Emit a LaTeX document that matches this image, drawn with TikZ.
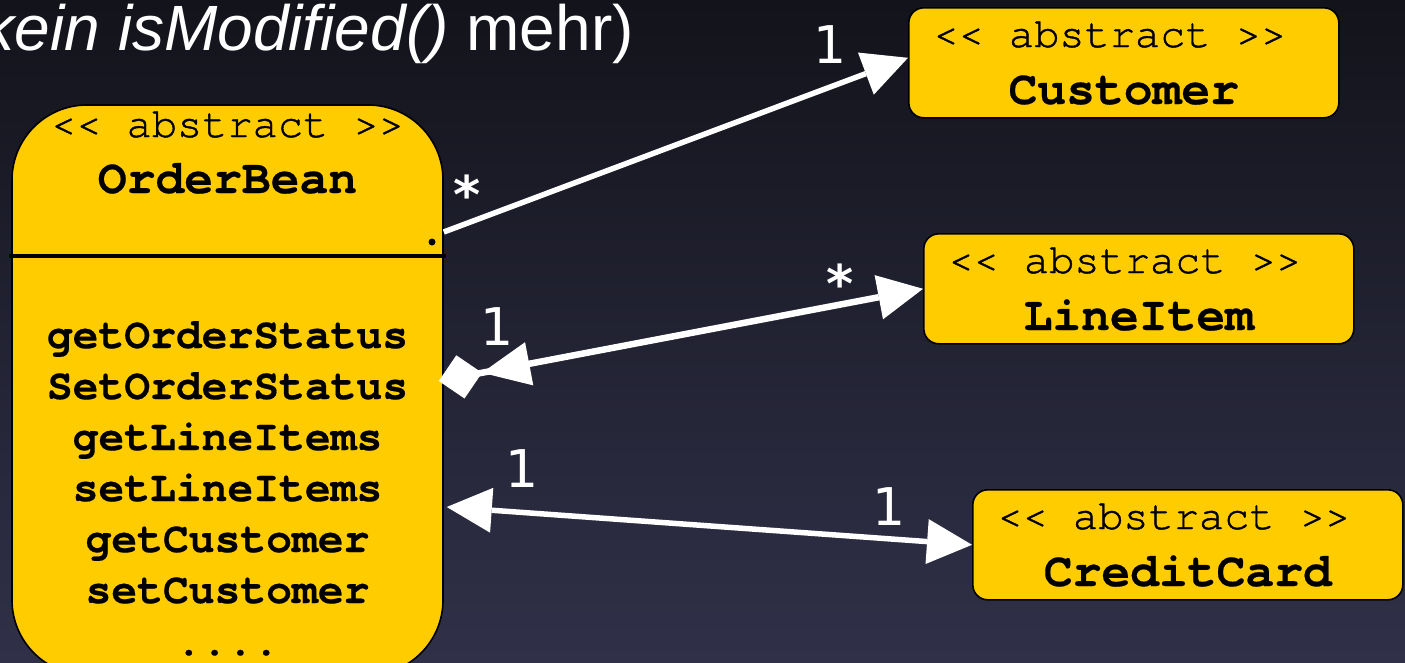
\documentclass[tikz,border=0pt]{standalone}
\usepackage{fontspec}
\usetikzlibrary{arrows.meta}
\newfontfamily\headfont{Liberation Sans}
\newfontfamily\codefont{TeX Gyre Cursor}[Ligatures=TeXOff, BoldFeatures={FakeBold=0.4}]
\newfontfamily\stereofont{TeX Gyre Cursor}[Ligatures=TeXOff, FakeBold=1]
\newfontfamily\multfont{DejaVu Sans}
\definecolor{bgtop}{RGB}{19,19,27}
\definecolor{bgbot}{RGB}{48,49,73}
\definecolor{beanyellow}{RGB}{255,204,0}

\tikzset{
  beanbox/.style={draw=black, line width=1.6pt, fill=beanyellow, inner sep=0pt},
  classbox/.style={beanbox, rounded corners=15pt, minimum width=430pt,
    minimum height=110pt, anchor=north west},
  stereo/.style={font=\stereofont\fontsize{42}{42}\selectfont, anchor=base, inner sep=0pt},
  cname/.style={font=\codefont\bfseries\fontsize{48}{48}\selectfont, anchor=base, inner sep=0pt},
  method/.style={font=\codefont\bfseries\fontsize{43}{43}\selectfont, anchor=base, inner sep=0pt},
  mult/.style={text=white, font=\multfont\fontsize{52}{52}\selectfont, anchor=base, inner sep=0pt},
  multstar/.style={text=white, font=\multfont\bfseries\fontsize{52}{52}\selectfont, anchor=base, inner sep=0pt},
  assoc/.style={draw=white, line width=5.5pt},
  navtip/.tip={Triangle[length=45pt,width=45pt,line width=0pt]},
  aggtip/.tip={Triangle[length=48pt,width=44pt,line width=0pt,sep=0pt]Diamond[length=44pt,width=44pt,line width=0pt]}
}

\begin{document}
\begin{tikzpicture}[x=1pt, y=-1pt]
  \useasboundingbox (0,0) rectangle (1405,662);
  \clip (0,0) rectangle (1405,662);
  % slide background
  \fill[top color=bgtop, bottom color=bgbot] (0,0) rectangle (1405,662);

  % heading line (continues from the left)
  \node[anchor=base east, text=white, inner sep=0pt,
        font=\headfont\fontsize{64}{64}\selectfont] (head) at (634,50)
        {\itshape kein isModified()\upshape{} mehr)};

  % OrderBean class
  \node[beanbox, rounded corners=75pt, minimum width=431pt, minimum height=570pt] (ob) at (227.5,390) {};
  \draw[line width=4pt] ([xshift=-2pt]ob.west |- 0,256) -- ([xshift=2pt]ob.east |- 0,256);
  \node[circle, fill=black, inner sep=0pt, minimum size=7pt] (obdot) at (432,242) {};
  \node[stereo] (obst) at (227.5,137) {<< abstract >>};
  \node[cname]  (obname) at (227.5,193) {OrderBean};
  \node[method] (mt1) at (227.5,348) {getOrderStatus};
  \node[method] (mt2) at (227.5,399) {SetOrderStatus};
  \node[method] (mt3) at (227.5,450) {getLineItems};
  \node[method] (mt4) at (227.5,501) {setLineItems};
  \node[method] (mt5) at (227.5,552) {getCustomer};
  \node[method] (mt6) at (227.5,603) {setCustomer};
  \node[method] (mt7) at (227.5,655) {....};

  % associated classes
  \node[classbox] (cust) at (908,7) {};
  \node[stereo] (custst) at ([xshift=-14pt,yshift=-40pt]cust.north) {<< abstract >>};
  \node[cname]  (custname) at ([yshift=-97pt]cust.north) {Customer};

  \node[classbox] (li) at (923,233) {};
  \node[stereo] (list) at ([xshift=-14pt,yshift=-40pt]li.north) {<< abstract >>};
  \node[cname]  (liname) at ([yshift=-97pt]li.north) {LineItem};

  \node[classbox] (cc) at (972,489) {};
  \node[stereo] (ccst) at ([xshift=-14pt,yshift=-40pt]cc.north) {<< abstract >>};
  \node[cname]  (ccname) at ([yshift=-97pt]cc.north) {CreditCard};

  % associations
  \draw[assoc, -navtip] ([yshift=158pt]ob.east) -- ([yshift=5pt]cust.west);
  \draw[assoc, line width=6.5pt, aggtip-navtip] ([xshift=-5pt,yshift=9pt]ob.east) -- (li.west);
  \draw[assoc, navtip-navtip] ([xshift=3pt,yshift=-117pt]ob.east) -- (cc.west);

  % multiplicities
  \node[multstar] (mcs) at (467,213) {*};
  \node[mult]     (mcc) at (830,63) {1};
  \node[multstar] (mls) at (840,302) {*};
  \node[mult]     (mlo) at (497,345) {1};
  \node[mult]     (mco) at (522,487) {1};
  \node[mult]     (mcr) at (889,525) {1};
\end{tikzpicture}
\end{document}
